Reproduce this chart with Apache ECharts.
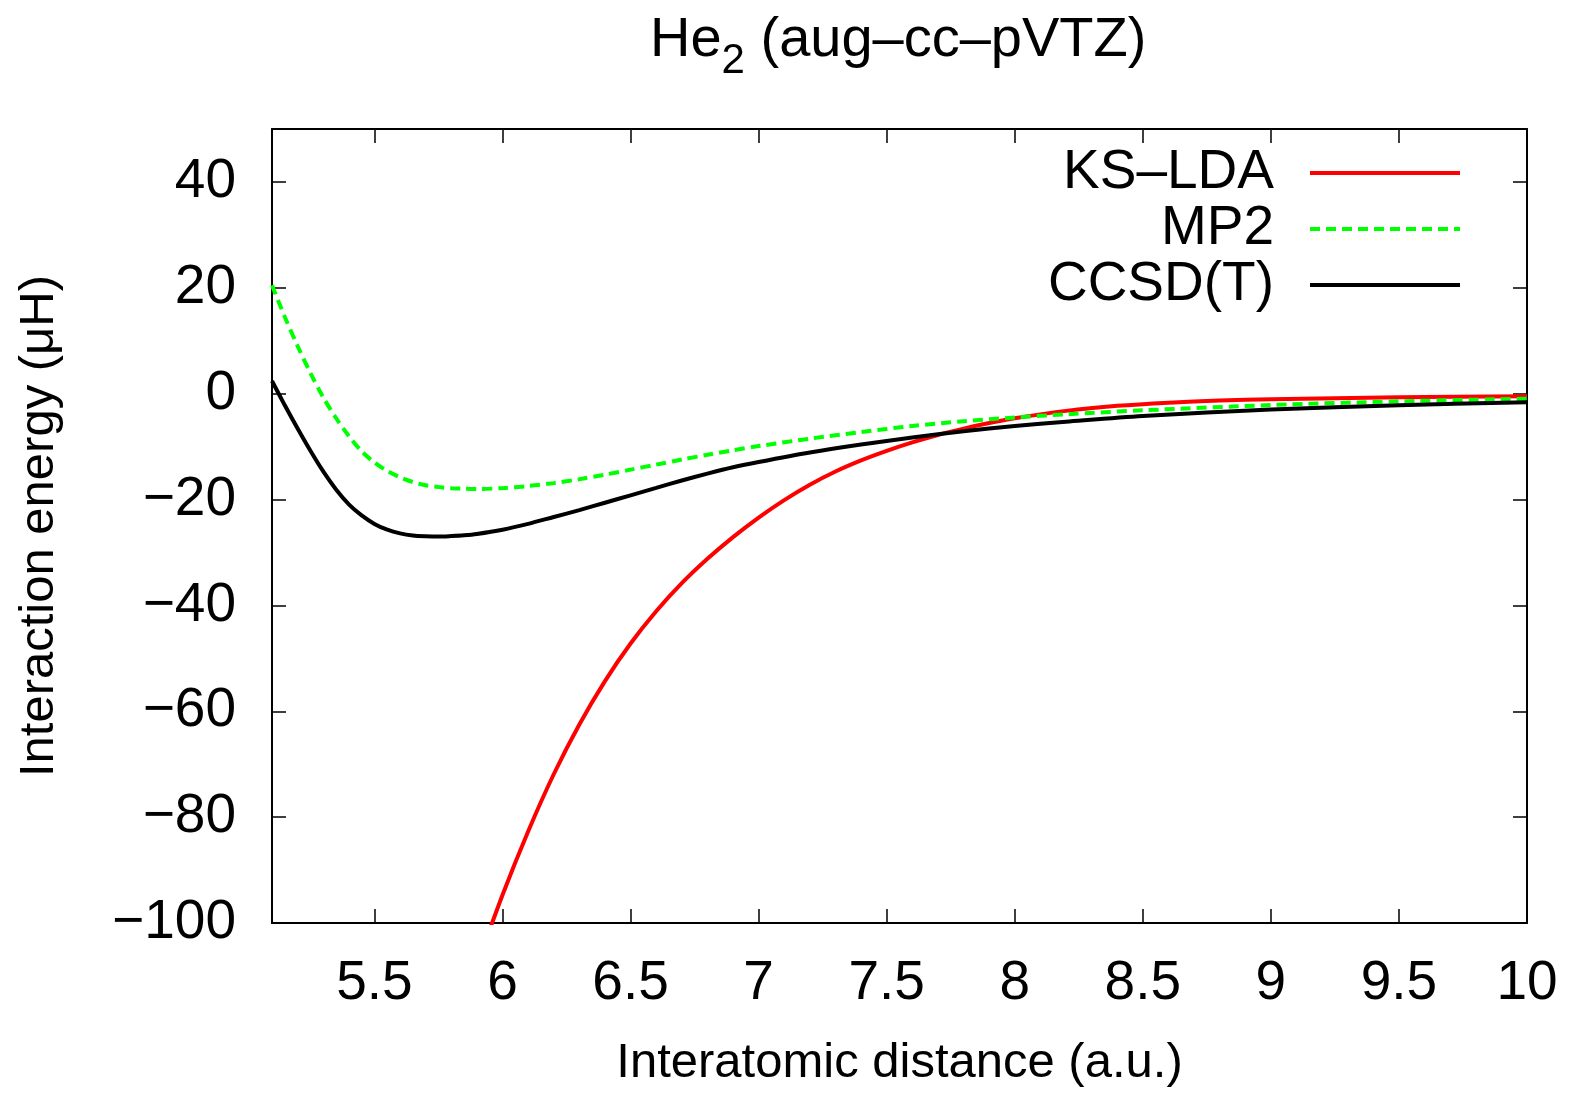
<!DOCTYPE html>
<html>
<head>
<meta charset="utf-8">
<script src="https://cdn.jsdelivr.net/npm/echarts@6/dist/echarts.min.js"></script>
<style>
html,body{margin:0;padding:0;background:#fff;}
#chart{width:1574px;height:1093px;}
</style>
</head>
<body>
<div id="chart"></div>
<script>
// ---- data ----
const distance = [5.1,5.15,5.2,5.25,5.3,5.35,5.4,5.45,5.5,5.55,5.6,5.65,5.7,5.75,5.8,5.85,5.9,6.0,6.1,6.2,6.3,6.4,6.5,6.6,6.7,6.8,6.9,7.0,7.2,7.4,7.6,7.8,8.0,8.2,8.5,9.0,9.5,10.0];
const ccsdt = [2.4,-2.2,-6.6,-10.8,-14.7,-18.1,-20.9,-23.0,-24.6,-25.7,-26.4,-26.8,-26.95,-27.0,-26.9,-26.75,-26.5,-25.7,-24.6,-23.3,-22.0,-20.6,-19.2,-17.8,-16.4,-15.1,-13.9,-12.9,-11.1,-9.6,-8.3,-7.1,-6.1,-5.3,-4.2,-3.0,-2.2,-1.6];
const mp2 = [20.5,14.5,9.0,3.9,-0.7,-4.6,-8.0,-10.9,-13.0,-14.6,-15.8,-16.7,-17.3,-17.65,-17.85,-17.95,-18.0,-17.85,-17.45,-16.9,-16.15,-15.3,-14.35,-13.4,-12.45,-11.55,-10.7,-9.9,-8.5,-7.25,-6.1,-5.2,-4.5,-3.9,-3.15,-2.15,-1.45,-0.95];
const ldaDistance = [5.9,6.0,6.1,6.2,6.3,6.4,6.5,6.6,6.7,6.8,6.9,7.0,7.1,7.2,7.3,7.4,7.5,7.6,7.7,7.8,7.9,8.0,8.2,8.4,8.6,8.8,9.0,9.5,10.0];
const ksLda = [-108,-94.7,-82.7,-71.9,-62.5,-54.3,-47.2,-41.1,-35.8,-31.2,-27.1,-23.4,-20.1,-17.2,-14.7,-12.6,-10.8,-9.2,-7.8,-6.6,-5.55,-4.65,-3.25,-2.3,-1.7,-1.3,-1.05,-0.7,-0.5];
const xTicks = [5.5,6,6.5,7,7.5,8,8.5,9,9.5,10];
const yTicks = [-100,-80,-60,-40,-20,0,20,40];
const seriesNames = ['KS\u2013LDA','MP2','CCSD(T)'];

const pair = (xs, ys) => xs.map((x, i) => [x, ys[i]]);
const FONT = '"Liberation Sans", Arial, sans-serif';
const fmtNum = v => String(v).replace('-', '\u2212');

const chart = echarts.init(document.getElementById('chart'), null, {renderer: 'canvas'});

const baseAxisLine = {show: true, onZero: false, lineStyle: {color: '#000', width: 2}};
const tickStyle = {show: true, inside: true, length: 14, lineStyle: {color: '#000', width: 1.5}};

chart.setOption({
  backgroundColor: '#fff',
  animation: false,
  title: {
    text: 'He{s|2} (aug\u2013cc\u2013pVTZ)',
    left: 645,
    top: 6,
    textStyle: {
      fontFamily: FONT, fontSize: 56, fontWeight: 'normal', color: '#000',
      lineHeight: 60, verticalAlign: 'top',
      rich: {
        s: {fontFamily: FONT, fontSize: 42, lineHeight: 42, verticalAlign: 'top', padding: [29, 0, 0, 0], color: '#000'}
      }
    }
  },
  legend: {
    data: seriesNames,
    orient: 'vertical',
    align: 'right',
    right: 107,
    top: 140,
    itemWidth: 150,
    itemHeight: 1,
    itemGap: 0,
    padding: 5,
    lineStyle: {width: 4},
    textStyle: {fontFamily: FONT, fontSize: 55, color: '#000', lineHeight: 56, padding: [0, 31, 0, 0]}
  },
  grid: {left: 272, top: 129, width: 1255, height: 794, containLabel: false},
  xAxis: [{
    type: 'value', min: 5.1, max: 10, position: 'bottom',
    name: 'Interatomic distance (a.u.)', nameLocation: 'middle', nameGap: 116,
    nameTextStyle: {fontFamily: FONT, fontSize: 49, color: '#000'},
    axisLine: baseAxisLine,
    axisTick: Object.assign({}, tickStyle, {customValues: xTicks}),
    axisLabel: {customValues: xTicks, fontFamily: FONT, fontSize: 55, color: '#000', margin: 33, formatter: v => fmtNum(v)},
    splitLine: {show: false}
  }, {
    type: 'value', min: 5.1, max: 10, position: 'top',
    axisLine: baseAxisLine,
    axisTick: Object.assign({}, tickStyle, {customValues: xTicks}),
    axisLabel: {show: false},
    splitLine: {show: false}
  }],
  yAxis: [{
    type: 'value', min: -100, max: 50, position: 'left',
    name: 'Interaction energy (\u03bcH)', nameLocation: 'middle', nameGap: 208,
    nameTextStyle: {fontFamily: FONT, fontSize: 49, color: '#000'},
    axisLine: baseAxisLine,
    axisTick: Object.assign({}, tickStyle, {customValues: yTicks}),
    axisLabel: {customValues: yTicks, fontFamily: FONT, fontSize: 55, color: '#000', margin: 36, formatter: v => fmtNum(v)},
    splitLine: {show: false}
  }, {
    type: 'value', min: -100, max: 50, position: 'right',
    axisLine: baseAxisLine,
    axisTick: Object.assign({}, tickStyle, {customValues: yTicks}),
    axisLabel: {show: false},
    splitLine: {show: false}
  }],
  series: [{
    name: seriesNames[0], type: 'line', data: pair(ldaDistance, ksLda),
    xAxisIndex: 0, yAxisIndex: 0,
    showSymbol: false, symbol: 'none', smooth: 0.3, clip: true,
    lineStyle: {color: '#ff0000', width: 4},
    itemStyle: {color: '#ff0000'}
  }, {
    name: seriesNames[1], type: 'line', data: pair(distance, mp2),
    xAxisIndex: 0, yAxisIndex: 0,
    showSymbol: false, symbol: 'none', smooth: 0.3, clip: true,
    lineStyle: {color: '#00ff00', width: 4, type: [10, 6]},
    itemStyle: {color: '#00ff00'}
  }, {
    name: seriesNames[2], type: 'line', data: pair(distance, ccsdt),
    xAxisIndex: 0, yAxisIndex: 0,
    showSymbol: false, symbol: 'none', smooth: 0.3, clip: true,
    lineStyle: {color: '#000000', width: 4},
    itemStyle: {color: '#000000'}
  }]
});
</script>
</body>
</html>
